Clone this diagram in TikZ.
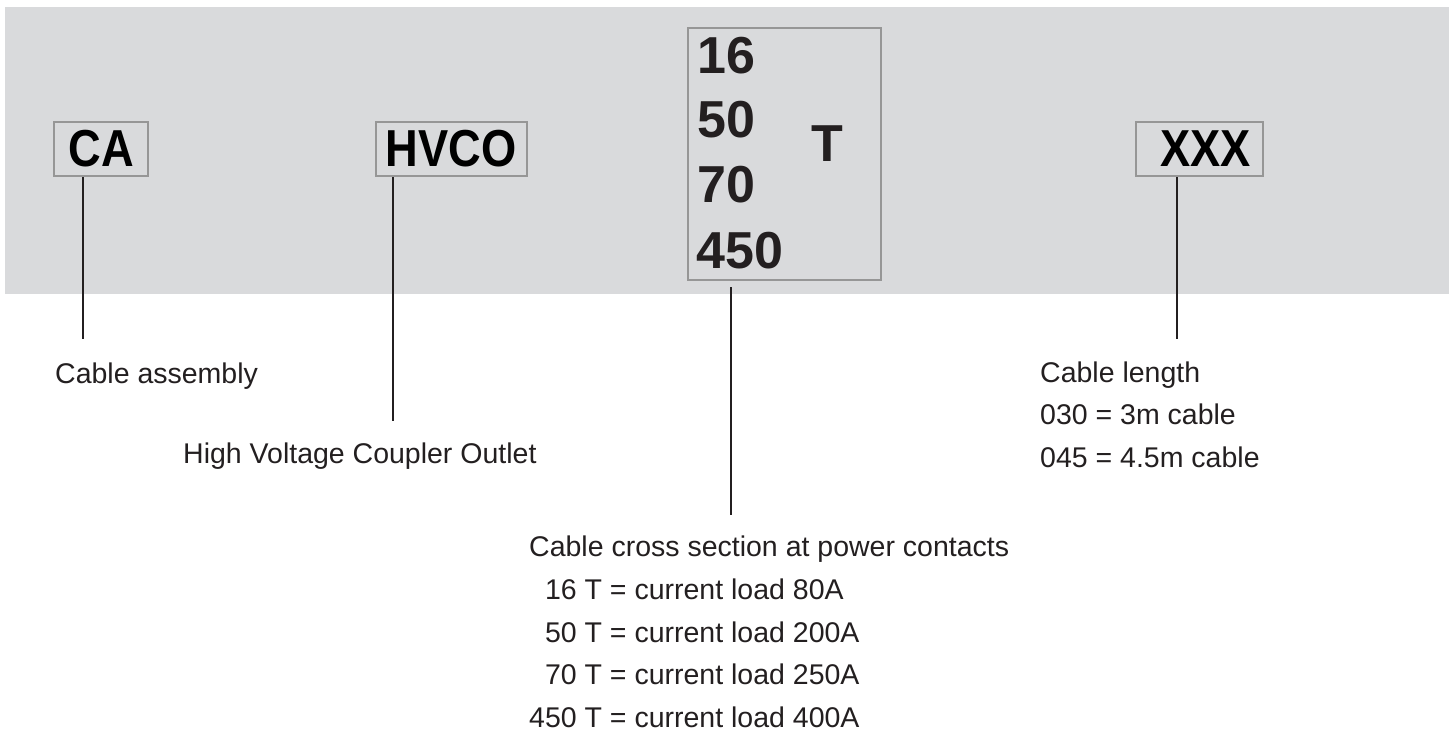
\documentclass[tikz,border=0pt]{standalone}
\usepackage{fontspec}
\setmainfont{Liberation Sans}
\newfontfamily\condfont[FakeStretch=0.87]{Liberation Sans}
\definecolor{bandgray}{RGB}{217,218,220}
\definecolor{framegray}{RGB}{150,150,150}
\definecolor{inkgray}{RGB}{35,31,32}
\tikzset{
  codebox/.style={draw=framegray, line width=2pt, inner sep=0pt, minimum height=54.6pt,
    text=black, font=\condfont\bfseries\fontsize{52}{52}\selectfont},
  digit/.style={anchor=base west, inner sep=0pt, text=inkgray, font=\bfseries\fontsize{52}{52}\selectfont},
  note/.style={anchor=base west, inner sep=0pt, text=inkgray, font=\fontsize{28.5}{28.5}\selectfont},
  lead/.style={draw=inkgray, line width=2pt},
}
\begin{document}
\begin{tikzpicture}[x=1pt,y=-1pt]
  \useasboundingbox (0,0) rectangle (1449,733);
  \fill[bandgray] (5,7) rectangle (1449,294);

  % code boxes
  \node[codebox, minimum width=93.6pt] (ca) at (101.2,149) {CA};
  \node[codebox, minimum width=150.5pt] (hvco) at (451.3,149) {HVCO};
  \node[draw=framegray, line width=2pt, inner sep=0pt, minimum width=193pt, minimum height=252pt] (sect) at (784.5,154) {};
  \node[codebox, minimum width=127pt] (len) at (1199.5,149) {\hspace*{12pt}XXX};

  % cross sections
  \node[digit] (d16) at (697,74) {16};
  \node[digit] (d50) at (697,137.3) {50};
  \node[digit] (d70) at (697,202.7) {70};
  \node[digit] (d450) at (696,268.3) {450};
  \node[digit] (tee) at (811,162) {T};

  % leader ends
  \coordinate (caend) at (83,339);
  \coordinate (hvcoend) at (393,421);
  \coordinate (sectend) at (731,515);
  \coordinate (lenend) at (1177,339);
  \draw[lead] (ca.south -| caend) -- (caend);
  \draw[lead] (hvco.south -| hvcoend) -- (hvcoend);
  \draw[lead, shorten <=6pt] (sect.south -| sectend) -- (sectend);
  \draw[lead] (len.south -| lenend) -- (lenend);

  % explanations
  \node[note] (catxt) at (55,383) {Cable assembly};
  \node[note] (hvcotxt) at (183,463) {High Voltage Coupler Outlet};
  \node[note] (secttxt) at (529,556) {Cable cross section at power contacts};
  \node[note] (sect16) at (529,599) {\phantom{0}16 T = current load 80A};
  \node[note] (sect50) at (529,642) {\phantom{0}50 T = current load 200A};
  \node[note] (sect70) at (529,684) {\phantom{0}70 T = current load 250A};
  \node[note] (sect450) at (529,727) {450 T = current load 400A};
  \node[note] (lentxt) at (1040,382) {Cable length};
  \node[note] (len030) at (1040,424) {030 = 3m cable};
  \node[note] (len045) at (1040,467) {045 = 4.5m cable};
\end{tikzpicture}
\end{document}
